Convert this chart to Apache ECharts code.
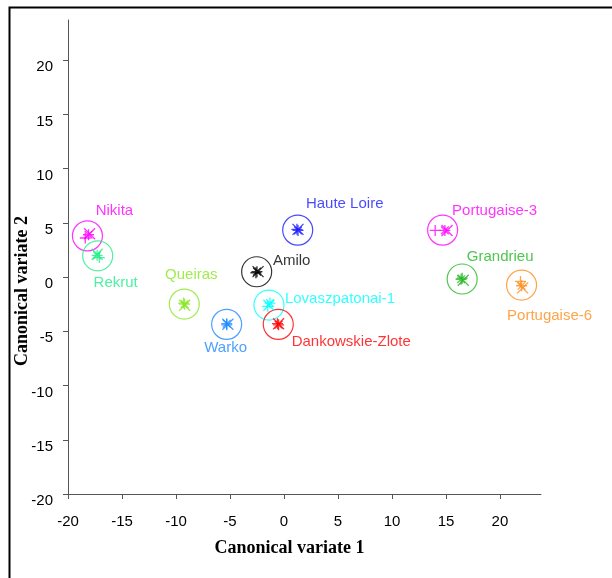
<!DOCTYPE html>
<html>
<head>
<meta charset="utf-8">
<script src="https://cdn.jsdelivr.net/npm/echarts@6/dist/echarts.min.js"></script>
<style>
  html, body { margin: 0; padding: 0; background: #fff; }
  #chart { width: 612px; height: 578px; }
</style>
</head>
<body>
<div id="chart"></div>
<script>
// Cultivar groups in canonical variate space
const varieties = ['Nikita', 'Rekrut', 'Queiras', 'Warko', 'Amilo', 'Haute Loire',
  'Lovaszpatonai-1', 'Dankowskie-Zlote', 'Portugaise-3', 'Grandrieu', 'Portugaise-6'];

// Group means (canonical variate 1, canonical variate 2)
const meanCV1 = [-18.2, -17.25, -9.23, -5.31, -2.53, 1.27, -1.39, -0.53, 14.69, 16.5, 22.0];
const meanCV2 = [3.8, 1.96, -2.49, -4.36, 0.49, 4.33, -2.58, -4.36, 4.33, -0.18, -0.74];

// Individual observations per group
const obsCV1 = [
  [-18.1, -18.4, -18.0],
  [-17.3, -17.1, -17.3],
  [-9.2, -9.3, -9.2],
  [-5.3, -5.3, -5.2],
  [-2.5, -2.6, -2.4],
  [1.3, 1.2, 1.3],
  [-1.3, -1.5, -1.4],
  [-0.5, -0.6, -0.5],
  [14.9, 14.0, 15.1],
  [16.4, 16.5, 16.6],
  [22.0, 21.9, 22.1]
];
const obsCV2 = [
  [3.9, 3.6, 4.0],
  [2.0, 1.8, 2.1],
  [-2.5, -2.4, -2.6],
  [-4.3, -4.4, -4.35],
  [0.5, 0.4, 0.5],
  [4.3, 4.4, 4.4],
  [-2.4, -2.7, -2.6],
  [-4.4, -4.3, -4.3],
  [4.3, 4.3, 4.3],
  [-0.2, -0.1, -0.3],
  [-0.8, -0.4, -1.0]
];

const tickValues = [-20, -15, -10, -5, 0, 5, 10, 15, 20];

// Styling
const groupColors = ['#ff00ff', '#22ee88', '#88e622', '#1e88ff', '#000000', '#1a1aff',
  '#00ffff', '#ff0000', '#ff00ff', '#22b822', '#ff8c1a'];
// label centre offset from the group circle, in pixels
const labelShift = [[27, -25], [18, 27], [7, -29], [-1, 24], [35, -11], [47, -26],
  [71, -6], [73, 18], [52, -19], [38, -22], [28, 31]];

const asterisk = 'path://M0,-6L0,6M-6,0L6,0M-4.2,-4.2L4.2,4.2M-4.2,4.2L4.2,-4.2';
const plus = 'path://M0,-6L0,6M-6,0L6,0';
const cross = 'path://M-4.5,-6L4.5,6M-4.5,6L4.5,-6';
const obsSymbols = [asterisk, plus, cross];

const circleData = varieties.map((name, i) => ({
  name: name,
  value: [meanCV1[i], meanCV2[i]],
  itemStyle: { color: 'rgba(0,0,0,0)', borderColor: groupColors[i], borderWidth: 1.2 },
  label: {
    show: true,
    formatter: name,
    position: 'inside',
    offset: labelShift[i],
    color: groupColors[i],
    fontFamily: 'Liberation Sans, Arial, sans-serif',
    fontSize: 15
  }
}));

const obsData = [];
varieties.forEach((name, i) => {
  obsCV1[i].forEach((x, j) => {
    obsData.push({
      value: [x, obsCV2[i][j]],
      symbol: obsSymbols[j % obsSymbols.length],
      itemStyle: { color: 'rgba(0,0,0,0)', borderColor: groupColors[i], borderWidth: 1.3 }
    });
  });
});

const axisCommon = {
  type: 'value',
  min: -20,
  splitLine: { show: false },
  axisLine: { show: true, onZero: false, lineStyle: { color: '#555', width: 1 } },
  axisTick: { show: true, inside: false, length: 5, customValues: tickValues, lineStyle: { color: '#555' } },
  nameLocation: 'middle',
  nameMoveOverlap: false,
  nameTextStyle: { fontFamily: 'Liberation Serif, Times New Roman, serif', fontWeight: 'bold', fontSize: 18, color: '#000' }
};

const chart = echarts.init(document.getElementById('chart'), null, { renderer: 'canvas' });
chart.setOption({
  animation: false,
  backgroundColor: '#fff',
  grid: { left: 68, right: 71, top: 20, bottom: 84, containLabel: false, outerBoundsMode: 'none' },
  xAxis: Object.assign({}, axisCommon, {
    max: 23.8,
    name: 'Canonical variate 1',
    nameGap: 45,
    nameTextStyle: Object.assign({}, axisCommon.nameTextStyle, { padding: [0, 30, 0, 0] }),
    axisLabel: { customValues: tickValues, margin: 20, color: '#000', fontSize: 15, fontFamily: 'Liberation Sans, Arial, sans-serif' }
  }),
  yAxis: Object.assign({}, axisCommon, {
    max: 23.7,
    name: 'Canonical variate 2',
    nameGap: 37,
    nameTextStyle: Object.assign({}, axisCommon.nameTextStyle, { padding: [0, 68, 0, 0] }),
    axisLabel: { customValues: tickValues, margin: 15, color: '#000', fontSize: 15, fontFamily: 'Liberation Sans, Arial, sans-serif', verticalAlign: 'top', lineHeight: 14 }
  }),
  graphic: [{
    type: 'rect',
    left: 7, top: 5,
    shape: { width: 800, height: 800 },
    style: { fill: 'none', stroke: '#000', lineWidth: 2 },
    silent: true
  }],
  series: [
    {
      type: 'scatter',
      symbol: 'circle',
      symbolSize: 30,
      data: circleData,
      z: 2
    },
    {
      type: 'scatter',
      symbolSize: 11,
      data: obsData,
      z: 3
    }
  ]
});
</script>
</body>
</html>
